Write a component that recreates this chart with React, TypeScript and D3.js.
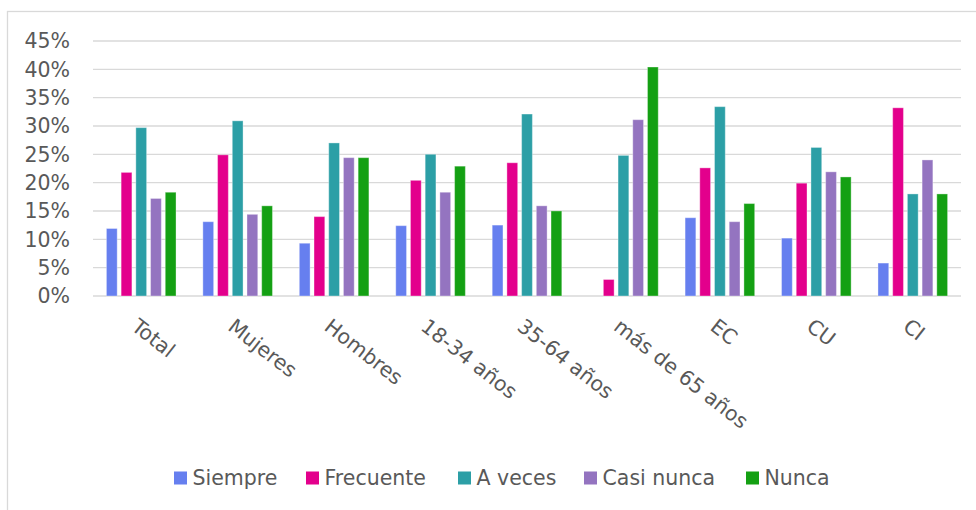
import React, { useEffect } from "react";
import * as d3 from "d3";

const categories = ["Total", "Mujeres", "Hombres", "18-34 años", "35-64 años", "más de 65 años", "EC", "CU", "CI"];
const seriesNames = ["Siempre", "Frecuente", "A veces", "Casi nunca", "Nunca"];
const siempre = [0.12, 0.132, 0.094, 0.125, 0.126, 0, 0.139, 0.103, 0.059];
const frecuente = [0.219, 0.25, 0.141, 0.205, 0.236, 0.03, 0.227, 0.2, 0.333];
const aVeces = [0.298, 0.31, 0.271, 0.251, 0.322, 0.249, 0.335, 0.263, 0.181];
const casiNunca = [0.173, 0.145, 0.245, 0.184, 0.16, 0.312, 0.132, 0.22, 0.241];
const nunca = [0.184, 0.16, 0.245, 0.23, 0.151, 0.405, 0.164, 0.211, 0.181];
const yTicks = [0, 0.05, 0.1, 0.15, 0.2, 0.25, 0.3, 0.35, 0.4, 0.45];
const colors = ["#667FEF", "#E3008C", "#2C9FA6", "#9474C0", "#14A013"];

const seriesValues = [siempre, frecuente, aVeces, casiNunca, nunca];

const W = 976;
const H = 510;
const FONT = "'DejaVu Sans', sans-serif";
const TEXT = "#595959";
const GRID = "#d9d9d9";

export default function App() {
  useEffect(() => {
    document.body.style.margin = "0";
  }, []);

  const x0 = d3.scaleBand<string>().domain(categories).range([93, 961]).padding(0);
  const groupW = x0.bandwidth() * 0.732;
  const x1 = d3.scaleBand<string>().domain(seriesNames).range([0, groupW]).paddingInner(0.2).paddingOuter(0);
  const y = d3.scaleLinear().domain([0, 0.45]).range([296, 41]);
  const fmt = d3.format(".0%");

  return (
    <svg width={W} height={H} style={{ position: "absolute", left: 0, top: 0, background: "#fff" }} fontFamily={FONT}>
      <rect x={7.5} y={11.5} width={W + 10} height={H + 10} fill="#fff" stroke={GRID} strokeWidth={1.3} />
      {yTicks.map((t) => (
        <g key={t}>
          <line x1={93} x2={961} y1={y(t)} y2={y(t)} stroke={GRID} strokeWidth={1.3} />
          <text x={70} y={y(t)} dy="0.36em" textAnchor="end" fontSize={20.5} fill={TEXT}>
            {fmt(t)}
          </text>
        </g>
      ))}
      {categories.map((c, ci) => {
        const gx = (x0(c) as number) + (x0.bandwidth() - groupW) / 2;
        return (
          <g key={c}>
            {seriesNames.map((s, si) => {
              const v = seriesValues[si][ci];
              if (!v) return null;
              const bx = gx + (x1(s) as number);
              const by = y(v);
              return (
                <rect
                  key={s}
                  x={bx + 0.5}
                  y={by + 0.5}
                  width={x1.bandwidth() - 1}
                  height={y(0) - by - 0.5}
                  fill={colors[si]}
                  stroke="rgba(255,255,255,0.35)"
                  strokeWidth={1}
                />
              );
            })}
          </g>
        );
      })}
      {categories.map((c) => {
        const bc = (x0(c) as number) + x0.bandwidth() / 2;
        return (
          <text key={c} transform={`translate(${bc - 11},${329}) rotate(38)`} fontSize={20.5} fill={TEXT}>
            {c}
          </text>
        );
      })}
      {seriesNames.map((s, i) => {
        const lx = [174, 306, 458, 584, 746][i];
        return (
          <g key={s}>
            <rect x={lx} y={471.5} width={13} height={13} fill={colors[i]} />
            <text x={lx + 18.5} y={478} dy="0.36em" fontSize={20.5} fill={TEXT}>
              {s}
            </text>
          </g>
        );
      })}
    </svg>
  );
}
